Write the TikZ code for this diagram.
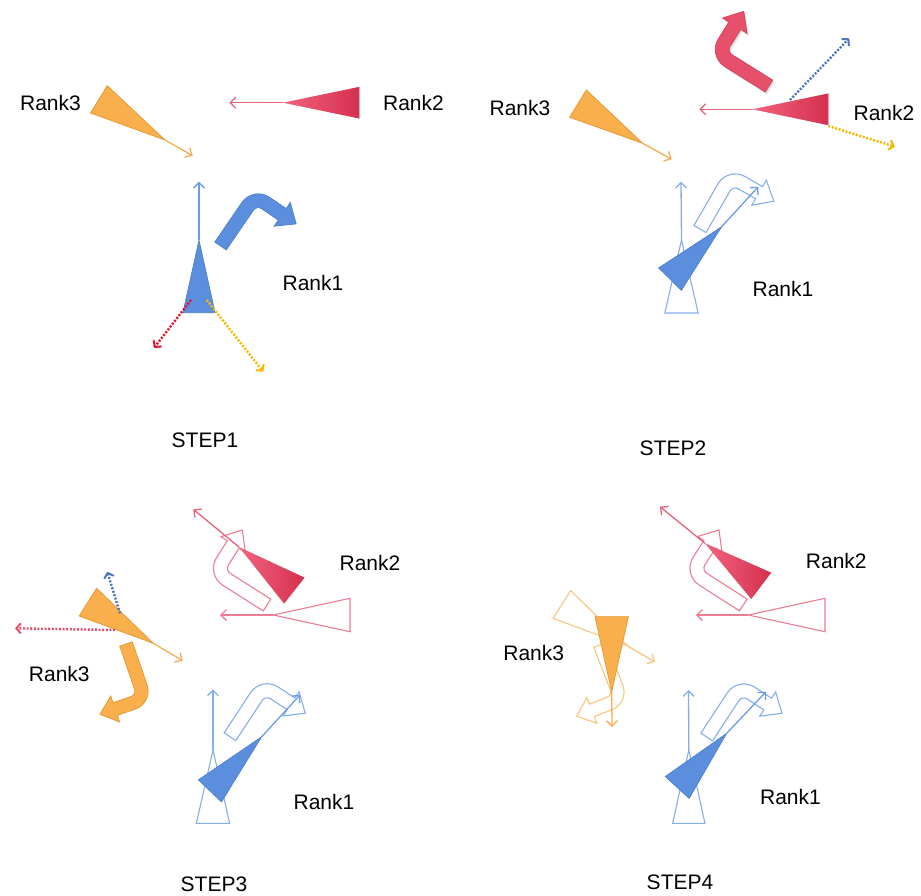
\documentclass[tikz,border=0pt]{standalone}
\usepackage{fontspec}
\setmainfont{Liberation Sans}
\usetikzlibrary{arrows.meta}

\definecolor{blueF}{HTML}{5B8FDD}
\definecolor{blueE}{HTML}{4A7CC9}
\definecolor{blueL}{HTML}{6E9BE2}
\definecolor{blueG}{HTML}{86AEEA}
\definecolor{oraF}{HTML}{F9B04C}
\definecolor{oraE}{HTML}{E39A38}
\definecolor{oraL}{HTML}{F6AC55}
\definecolor{oraG}{HTML}{F8C57C}
\definecolor{redA}{HTML}{F2637D}
\definecolor{redB}{HTML}{D5304F}
\definecolor{redM}{HTML}{E6506A}
\definecolor{redL}{HTML}{E8607A}
\definecolor{redG}{HTML}{EC7D92}
\definecolor{dotRed}{HTML}{E8102A}
\definecolor{dotYel}{HTML}{F4B800}
\definecolor{dotBlue}{HTML}{4C74BE}
\definecolor{dotPink}{HTML}{E5506C}

\tikzset{
  % isosceles wedge: apex at the origin, pointing along +x
  wedge/.style 2 args={insert path={(0,0) -- (-#1,-#2/2) -- (-#1,#2/2) -- cycle}},
  % bent block arrow: tail centred at the origin, heading +x, turning clockwise
  bent/.style={insert path={(0,-7) -- (48,-7)
      .. controls (59.05,-7) and (68,1.95) .. (68,13) -- (68,33)
      -- (75.5,33) -- (61,50) -- (46.5,33) -- (54,33) -- (54,13)
      .. controls (54,9.69) and (51.31,7) .. (48,7) -- (0,7) -- cycle}},
  ray/.style={line width=1.3pt, -{Straight Barb[length=5.5pt,width=11pt]}},
  dotray/.style={line width=2.4pt, dash pattern=on 2pt off 1.6pt,
      -{Straight Barb[length=4.5pt,width=10pt,line width=2pt]}},
  ghost/.style={draw=#1, line width=1.1pt, line join=miter},
  bluefill/.style={fill=blueF, draw=blueE, line width=0.6pt},
  orafill/.style={fill=oraF, draw=oraE, line width=0.8pt},
  redshade/.style={left color=redA, right color=redB},
  softshadow/.style={fill=black, fill opacity=0.07},
  lbl/.style={font=\fontsize{21}{25}\selectfont, inner sep=0pt},
}

% soft shadow under a red shape: three offset translucent copies
\newcommand\redshadow[1]{%
  \foreach \dd in {1,2,3} {\fill[softshadow, xshift=0.6*\dd pt, yshift=-0.9*\dd pt, #1];}}

\begin{document}
\begin{tikzpicture}[x=1pt,y=-1pt]
\useasboundingbox (0,0) rectangle (921,895);

% ================= STEP 1 =================
\coordinate (o1a) at (165,140);   \coordinate (o1t) at (192.7,155.7);
\coordinate (r1a) at (283.3,102.7); \coordinate (r1t) at (229.3,102.7);
\coordinate (b1a) at (199,240);   \coordinate (b1t) at (199,181.7);
\coordinate (d1s) at (191,300);   \coordinate (d1e) at (154,348);
\coordinate (d2s) at (206.7,300); \coordinate (d2e) at (263.3,371.7);

\filldraw[orafill, shift={(o1a)}, rotate=-31.6, wedge={77.6}{32}];
\redshadow{shift={(r1a)}, rotate=180, wedge={76}{31.6}}
\shade[redshade, shift={(r1a)}, rotate=180, wedge={76}{31.6}];
\filldraw[bluefill, shift={(b1a)}, rotate=90, wedge={72.7}{32.3}];
\filldraw[bluefill, shift={(220.5,246)}, rotate=55.6, bent];

\draw[ray, oraL] (o1a) -- (o1t);
\draw[ray, redL] (r1a) -- (r1t);
\draw[ray, blueL] (b1a) -- (b1t);
\draw[dotray, dotRed] (d1s) -- (d1e);
\draw[dotray, dotYel] (d2s) -- (d2e);

\node[lbl] (s1r3) at (50.5,102.7) {Rank3};
\node[lbl] (s1r2) at (413.5,103) {Rank2};
\node[lbl] (s1r1) at (313,282.7) {Rank1};
\node[lbl] (s1) at (205,440.5) {STEP1};

% ================= STEP 2 =================
\coordinate (g2a) at (681.5,240); \coordinate (g2t) at (681,181.7);
\coordinate (b2a) at (721.7,226.7); \coordinate (b2t) at (758.3,186.7);
\coordinate (o2a) at (642.7,143.3); \coordinate (o2t) at (671.7,159.3);
\coordinate (r2a) at (752.7,109.3); \coordinate (r2t) at (699.3,109.3);
\coordinate (d3s) at (790,100);   \coordinate (d3e) at (849.3,38.3);
\coordinate (d4s) at (828.3,126); \coordinate (d4e) at (895,146.7);

\draw[ghost=blueG, shift={(g2a)}, rotate=90, wedge={73}{33.3}];
\draw[ghost=blueG, shift={(700,229)}, rotate=60, bent];
\draw[ray, blueG] (g2a) -- (g2t);

\filldraw[bluefill, shift={(b2a)}, rotate=45.4, wedge={73.7}{32}];
\filldraw[orafill, shift={(o2a)}, rotate=-31.5, wedge={75.9}{32}];
\redshadow{shift={(r2a)}, rotate=180, wedge={75.6}{31.7}}
\shade[redshade, shift={(r2a)}, rotate=180, wedge={75.6}{31.7}];
\redshadow{shift={(769,86)}, rotate=148, bent}
\filldraw[fill=redM, draw=redB!70!redM, line width=0.6pt, shift={(769,86)}, rotate=148, bent];

\draw[ray, blueL] (b2a) -- (b2t);
\draw[ray, oraL] (o2a) -- (o2t);
\draw[ray, redL] (r2a) -- (r2t);
\draw[dotray, dotBlue] (d3s) -- (d3e);
\draw[dotray, dotYel] (d4s) -- (d4e);

\node[lbl] (s2r3) at (520,108) {Rank3};
\node[lbl] (s2r2) at (884,113) {Rank2};
\node[lbl] (s2r1) at (783,289.3) {Rank1};
\node[lbl] (s2) at (673,448) {STEP2};

% ================= STEP 3 =================
\coordinate (g3r) at (273.3,615);  \coordinate (g3rt) at (220,615);
\coordinate (r3a) at (239.3,547.3); \coordinate (r3t) at (193.3,509.3);
\coordinate (g3b) at (213,750);    \coordinate (g3bt) at (213,689.3);
\coordinate (b3a) at (261.7,736.7); \coordinate (b3t) at (300,695);
\coordinate (o3a) at (153.3,643.3); \coordinate (o3t) at (182.7,660.7);
\coordinate (d5s) at (115,630);    \coordinate (d5e) at (15,628.3);
\coordinate (d6s) at (120,613.3);  \coordinate (d6e) at (107.3,571.7);

\draw[ghost=redG, shift={(g3r)}, rotate=180, wedge={76.7}{33.4}];
\draw[ghost=redG, shift={(267,605)}, rotate=147.6, bent];
\draw[ray, redG] (g3r) -- (g3rt);
\draw[ghost=blueG, shift={(g3b)}, rotate=90, wedge={73.3}{33.3}];
\draw[ghost=blueG, shift={(230,736.7)}, rotate=56.7, bent];
\draw[ray, blueG] (g3b) -- (g3bt);

\redshadow{shift={(r3a)}, rotate=141.8, wedge={70}{33}}
\shade[redshade, shift={(r3a)}, rotate=141.8, wedge={70}{33}];
\filldraw[bluefill, shift={(b3a)}, rotate=46.3, wedge={75}{32}];
\filldraw[orafill, shift={(o3a)}, rotate=-32.2, wedge={77.3}{32.8}];
\filldraw[orafill, shift={(126,644)}, rotate=-71, scale=0.95, bent];

\draw[ray, redL] (r3a) -- (r3t);
\draw[ray, blueL] (b3a) -- (b3t);
\draw[ray, oraL] (o3a) -- (o3t);
\draw[dotray, dotPink] (d5s) -- (d5e);
\draw[dotray, dotBlue] (d6s) -- (d6e);

\node[lbl] (s3r2) at (370,562.7) {Rank2};
\node[lbl] (s3r3) at (59.3,674.3) {Rank3};
\node[lbl] (s3r1) at (324,801.7) {Rank1};
\node[lbl] (s3) at (214,884) {STEP3};

% ================= STEP 4 =================
\coordinate (g4r) at (748.3,615);  \coordinate (g4rt) at (696,615);
\coordinate (r4a) at (705,543.3);  \coordinate (r4t) at (660,506.7);
\coordinate (g4o) at (627.3,645.7); \coordinate (g4ot) at (655,662);
\coordinate (o4a) at (611.7,691.7); \coordinate (o4t) at (612,727);
\coordinate (g4b) at (688.8,750);  \coordinate (g4bt) at (688.5,690);
\coordinate (b4a) at (726.7,733.3); \coordinate (b4t) at (766,691.7);

\draw[ghost=redG, shift={(g4r)}, rotate=180, wedge={76.7}{33.4}];
\draw[ghost=redG, shift={(743.3,605)}, rotate=147.3, bent];
\draw[ray, redG] (g4r) -- (g4rt);
\draw[ghost=oraG, shift={(g4o)}, rotate=-32.2, wedge={77.3}{32.8}];
\draw[ghost=oraG, shift={(600,645)}, rotate=-68.7, scale=0.95, bent];
\draw[ray, oraG] (g4o) -- (g4ot);
\draw[ghost=blueG, shift={(g4b)}, rotate=90, wedge={73.3}{32.3}];
\draw[ghost=blueG, shift={(706.7,737)}, rotate=56.8, bent];
\draw[ray, blueG] (g4b) -- (g4bt);

\redshadow{shift={(r4a)}, rotate=142.9, wedge={70.5}{33}}
\shade[redshade, shift={(r4a)}, rotate=142.9, wedge={70.5}{33}];
\filldraw[orafill, shift={(o4a)}, rotate=-90, wedge={75}{33.3}];
\filldraw[bluefill, shift={(b4a)}, rotate=47.6, wedge={73.4}{32.5}];

\draw[ray, redL] (r4a) -- (r4t);
\draw[ray, oraL] (o4a) -- (o4t);
\draw[ray, blueL] (b4a) -- (b4t);

\node[lbl] (s4r2) at (836.3,560.7) {Rank2};
\node[lbl] (s4r3) at (533.7,653.3) {Rank3};
\node[lbl] (s4r1) at (790.5,797.3) {Rank1};
\node[lbl] (s4) at (680,882) {STEP4};
\end{tikzpicture}
\end{document}
